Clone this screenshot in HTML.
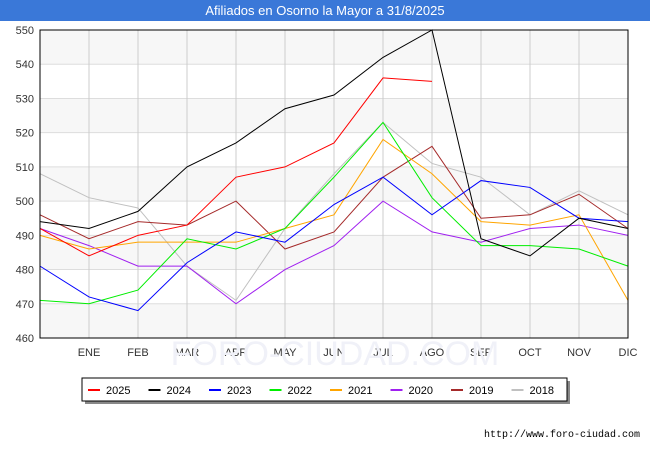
<!DOCTYPE html>
<html><head><meta charset="utf-8"><style>
body{margin:0;width:650px;height:450px;background:#fff;font-family:"Liberation Sans",sans-serif;overflow:hidden}
#title{position:absolute;left:0;top:0;width:650px;height:21px;background:#3a78d8;color:#fff;font-size:13px;text-align:center;line-height:22px}
</style></head><body>
<div id="title">Afiliados en Osorno la Mayor a 31/8/2025</div>
<svg id="chart" width="650" height="450" style="position:absolute;left:0;top:0"></svg>
<script>
const months=["","ENE","FEB","MAR","ABR","MAY","JUN","JUL","AGO","SEP","OCT","NOV","DIC"];
const yTicks=[460,470,480,490,500,510,520,530,540,550];
const seriesNames=["2025","2024","2023","2022","2021","2020","2019","2018"];
const seriesColors=["#ff0000","#000000","#0000ff","#00ee00","#ffa500","#a020f0","#a52a2a","#c0c0c0"];
const s2025=[492,484,490,493,507,510,517,536,535];
const s2024=[494,492,497,510,517,527,531,542,550,489,484,495,492];
const s2023=[481,472,468,482,491,488,499,507,496,506,504,495,494];
const s2022=[471,470,474,489,486,492,507,523,501,487,487,486,481];
const s2021=[490,486,488,488,488,492,496,518,508,494,493,496,471];
const s2020=[492,487,481,481,470,480,487,500,491,488,492,493,490];
const s2019=[496,489,494,493,500,486,491,507,516,495,496,502,492];
const s2018=[508,501,498,481,471,492,508,523,511,507,496,503,496];
const allSeries=[s2025,s2024,s2023,s2022,s2021,s2020,s2019,s2018];
const L=40,R=628,T=30,B=338,ymin=460,ymax=550;
const X=i=>L+i*(R-L)/12, Y=v=>B-(v-ymin)*(B-T)/(ymax-ymin);
const svg=document.getElementById('chart'),NS="http://www.w3.org/2000/svg";
function mk(t,a,p){const e=document.createElementNS(NS,t);for(const k in a)e.setAttribute(k,a[k]);(p||svg).appendChild(e);return e;}
for(let i=0;i<yTicks.length-1;i++){
 if(i%2==0){const r=mk('rect',{x:L,y:Y(yTicks[i+1]),width:R-L,height:Y(yTicks[i])-Y(yTicks[i+1]),fill:'#f7f7f7'});
 
 }
}
yTicks.forEach(v=>{
 const l=mk('line',{x1:L,x2:R,y1:Y(v),y2:Y(v),stroke:'#ddd'});
 
 
 const t=mk('text',{x:L-6,y:Y(v)+4,'text-anchor':'end','font-size':11,fill:'#333'});t.textContent=v;
 
 
});
months.forEach((m,i)=>{
 if(i>0){const l=mk('line',{x1:X(i),x2:X(i),y1:T,y2:B,stroke:'#ccc'});
 
 }
 const t=mk('text',{x:X(i),y:B+18,'text-anchor':'middle','font-size':11,fill:'#333'});t.textContent=m;
 
 
});
const wm=mk('text',{x:335,y:365,'text-anchor':'middle','font-size':34,fill:'#f0f1f8'});wm.textContent="FORO-CIUDAD.COM";


for(let s=allSeries.length-1;s>=0;s--){
 const p=mk('polyline',{points:allSeries[s].map((v,i)=>X(i)+','+Y(v)).join(' '),fill:'none',stroke:seriesColors[s],'stroke-width':1});
 
 
}
const fr=mk('rect',{x:L,y:T,width:R-L,height:B-T,fill:'none',stroke:'#000'});


mk('rect',{x:85,y:381,width:485,height:23,fill:'#888'});
const lg=mk('rect',{x:82,y:378,width:485,height:23,fill:'#fff',stroke:'#000'});


seriesNames.forEach((n,i)=>{
 const x=88+i*60.5;
 const l=mk('line',{x1:x,x2:x+12,y1:390,y2:390,stroke:seriesColors[i],'stroke-width':2});
 
 
 const t=mk('text',{x:x+18,y:394,'font-size':11,fill:'#000'});t.textContent=n;
 
 
});
const u=mk('text',{x:640,y:437,'text-anchor':'end','font-size':10,fill:'#000','font-family':'Liberation Mono, monospace'});u.textContent="http://www.foro-ciudad.com";


</script>
</body></html>
